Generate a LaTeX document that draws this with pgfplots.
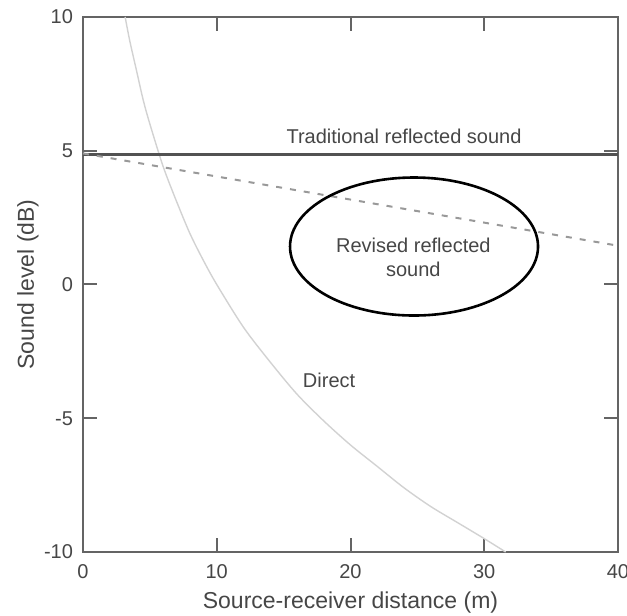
\documentclass[border=0pt]{standalone}
\usepackage{fontspec}
\setmainfont{Liberation Sans}
\usepackage{pgfplots}
\pgfplotsset{compat=1.18}
\definecolor{axgray}{RGB}{100,100,100}
\definecolor{txtgray}{RGB}{70,70,70}
\begin{document}
\begin{tikzpicture}
\begin{axis}[
  scale only axis,
  width=267.5pt, height=267.5pt,
  xmin=0, xmax=40, ymin=-10, ymax=10,
  xtick={0,10,20,30,40}, ytick={-10,-5,0,5,10},
  tick align=inside,
  major tick length=7pt,
  axis line style={axgray, line width=1.3pt},
  every tick/.style={axgray, line width=1pt},
  tick label style={font=\fontsize{10}{11}\selectfont, text=txtgray},
  xticklabel style={yshift=-2.5pt},
  yticklabel style={xshift=-1.5pt},
  /pgf/number format/assume math mode=true,
  xlabel={Source-receiver distance (m)},
  ylabel={Sound level (dB)},
  label style={font=\fontsize{11.5}{13}\selectfont, text=txtgray},
  x label style={at={(rel axis cs:0.5,0)}, anchor=center, yshift=-25.5pt},
  y label style={at={(rel axis cs:0,0.5)}, anchor=center, yshift=27.5pt},
  clip=true,
]
% Direct sound
\addplot[color=gray!35, line width=0.7pt, smooth] coordinates {
(3.15,10.0) (3.5,9.1) (4,8.0) (4.5,6.9) (5,6.0) (6,4.4) (7,3.1) (8,1.9) (9,0.9) (10,0.0)
(12,-1.6) (14,-2.9) (16,-4.1) (18,-5.1) (20,-6.0) (22,-6.8) (24,-7.6) (26,-8.3) (28,-8.9) (30,-9.5) (31.6,-10.0)
};
% Traditional reflected sound
\addplot[color=black!68, line width=1.3pt] coordinates {(0,4.85) (40,4.85)};
% Revised reflected sound
\addplot[color=gray!80, line width=1pt, dash pattern=on 3pt off 4pt] coordinates {(0,4.9) (40,1.45)};
\node[font=\fontsize{10}{12}\selectfont, text=txtgray] at (axis cs:24.0,5.55) {Traditional reflected sound};
\node[font=\fontsize{10}{12}\selectfont, text=txtgray, align=center] at (axis cs:24.7,1.0) {Revised reflected\\sound};
\node[font=\fontsize{10}{12}\selectfont, text=txtgray] at (axis cs:18.4,-3.6) {Direct};
\draw[black, line width=1.3pt] (axis cs:24.75,1.42) ellipse [x radius=62pt, y radius=34.5pt];
\end{axis}
\pgfresetboundingbox
\path ([shift={(-41.5pt,-32pt)}]current axis.south west) rectangle ([shift={(4.5pt,8.5pt)}]current axis.north east);
\end{tikzpicture}
\end{document}
